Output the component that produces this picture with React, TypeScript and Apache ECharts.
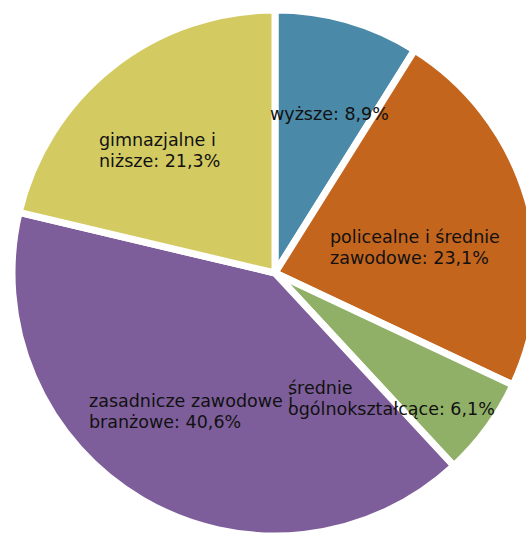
import React, { useEffect, useRef } from "react";
import * as echarts from "echarts";

const categories = [
  "wyższe",
  "policealne i średnie\nzawodowe",
  "średnie\nogólnokształcące",
  "zasadnicze zawodowe i\nbranżowe",
  "gimnazjalne i\nniższe",
];
const shares = [8.9, 23.1, 6.1, 40.6, 21.3];
const colors = ["#4a8aa8", "#c4651e", "#91b067", "#7e5e9a", "#d3cb62"];
// label anchor (left x, middle y) for each slice, as placed in the original
const labelAnchors: [number, number][] = [
  [270, 114],
  [330, 247],
  [288, 398],
  [89, 411],
  [99, 150],
];

export default function App() {
  const ref = useRef<HTMLDivElement>(null);
  useEffect(() => {
    if (!ref.current) return;
    const chart = echarts.init(ref.current, undefined, { renderer: "svg" });
    chart.setOption({
      animation: false,
      backgroundColor: "#ffffff",
      series: [
        {
          type: "pie",
          center: [275, 273],
          radius: [0, 263],
          startAngle: 90,
          clockwise: true,
          data: categories.map((name, i) => ({
            name,
            value: shares[i],
            itemStyle: { color: colors[i] },
          })),
          itemStyle: { borderColor: "#ffffff", borderWidth: 7 },
          label: {
            show: true,
            position: "inside",
            formatter: (p: any) =>
              `${p.name}: ${Number(p.value).toFixed(1).replace(".", ",")}%`,
            fontFamily: "DejaVu Sans",
            fontSize: 17.5,
            lineHeight: 21,
            color: "#111111",
            align: "left",
          },
          labelLine: { show: false },
          labelLayout: (params: any) => {
            const a = labelAnchors[params.dataIndex];
            return { x: a[0], y: a[1], align: "left", verticalAlign: "middle" };
          },
          emphasis: { disabled: true },
        },
      ],
    });
    return () => chart.dispose();
  }, []);
  return (
    <div
      ref={ref}
      style={{ position: "fixed", left: 0, top: 0, width: 526, height: 533 }}
    />
  );
}
